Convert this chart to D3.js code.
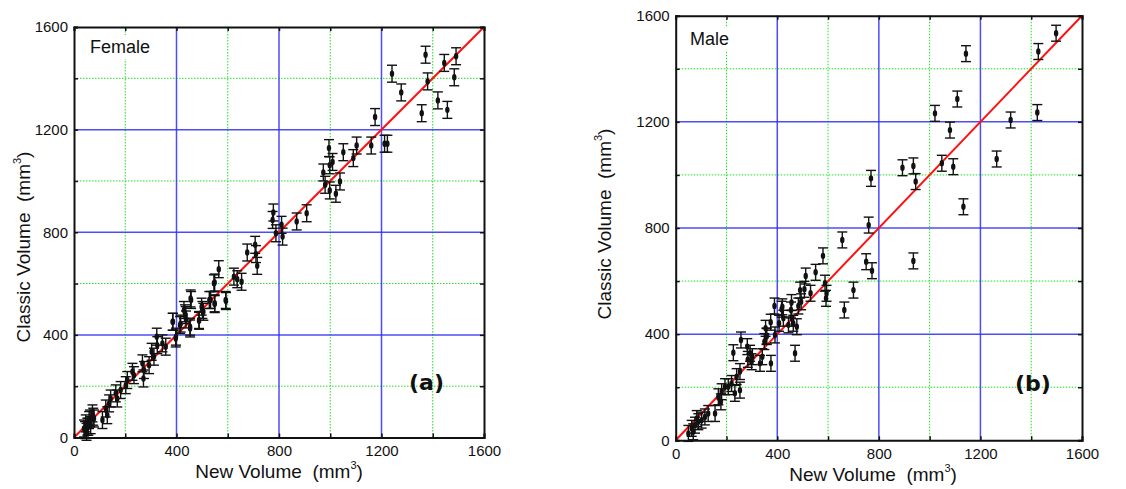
<!DOCTYPE html>
<html><head><meta charset="utf-8">
<script src="https://cdn.jsdelivr.net/npm/d3@7"></script>
<style>body{margin:0;background:#fff}svg{display:block}text{font-family:"Liberation Sans",Arial,sans-serif;fill:#111;white-space:pre}</style>
</head><body><svg id="c" width="1126" height="489"></svg>
<script>
const ticks = [0, 400, 800, 1200, 1600];
const majorGrid = [400, 800, 1200];
const minorGrid = [200, 600, 1000, 1400];
const femaleX = [1372,1491,1445,1241,1380,1484,1277,1420,1457,1357,1175,1160,1212,1223,995,1051,1103,1090,973,998,1009,1038,980,998,1022,778,775,869,908,788,810,814,676,707,710,715,624,637,654,565,549,549,593,528,498,505,488,457,433,437,453,414,385,398,455,386,429,436,416,453,488,501,533,549,592,546,397,323,325,358,345,303,312,293,273,267,271,228,234,208,202,182,163,169,143,137,124,130,111,72,59,46,39,52,65,78,49,56,62,75,43];
const femaleY = [1492,1486,1460,1418,1388,1404,1345,1314,1277,1264,1249,1138,1145,1145,1128,1112,1138,1089,1033,1061,1074,998,985,963,950,877,848,842,874,796,829,783,721,751,715,669,627,617,607,656,604,520,532,536,510,490,455,536,484,460,432,438,451,393,542,451,497,477,444,425,458,497,536,523,536,601,386,393,360,354,367,334,315,282,263,289,230,256,243,224,204,185,172,152,152,133,113,87,68,94,68,55,35,42,48,74,22,42,74,81,29];
const maleX = [1498,1428,1143,1109,1021,1080,1424,1319,1264,1048,1093,893,936,945,769,1133,760,936,656,580,750,773,700,664,588,594,592,551,512,490,507,531,483,456,470,389,417,424,444,374,358,420,454,494,457,463,477,407,354,358,349,391,257,227,282,293,302,284,299,332,341,375,253,240,253,233,220,207,194,181,168,178,155,128,115,102,89,76,63,69,50,83];
const maleY = [1534,1465,1457,1286,1232,1169,1235,1207,1060,1044,1031,1027,1034,975,987,880,811,676,755,695,673,639,566,491,592,554,535,633,619,566,569,554,506,519,328,506,494,460,435,445,393,503,491,522,460,441,428,441,422,391,372,397,378,330,353,328,315,305,296,290,315,290,259,240,189,177,214,202,202,183,164,145,101,101,88,76,70,57,45,32,26,82];
const panels = [
  {xs: femaleX, ys: femaleY, err: 33, label: "Female", tag: "(a)", x0: 74, x1: 484, y0: 437.5, y1: 27,
   lab: [90, 53], tagPos: [409, 390], xt: [279, 478], yt: [23, 247]},
  {xs: maleX, ys: maleY, err: 30, label: "Male", tag: "(b)", x0: 675.7, x1: 1082, y0: 440.3, y1: 15.7,
   lab: [690, 45], tagPos: [1015, 391], xt: [873, 481], yt: [604, 224]}
];
const svg = d3.select("#c");
panels.forEach(p => {
  const x = d3.scaleLinear().domain([0, 1600]).range([p.x0, p.x1]);
  const y = d3.scaleLinear().domain([0, 1600]).range([p.y0, p.y1]);
  const g = svg.append("g");
  minorGrid.forEach(v => {
    g.append("line").attr("x1", x(v)).attr("x2", x(v)).attr("y1", y(0)).attr("y2", y(1600))
      .attr("stroke", "#22dd22").attr("stroke-width", 1).attr("stroke-dasharray", "1.5,1.5");
    g.append("line").attr("y1", y(v)).attr("y2", y(v)).attr("x1", x(0)).attr("x2", x(1600))
      .attr("stroke", "#22dd22").attr("stroke-width", 1).attr("stroke-dasharray", "1.5,1.5");
  });
  majorGrid.forEach(v => {
    g.append("line").attr("x1", x(v)).attr("x2", x(v)).attr("y1", y(0)).attr("y2", y(1600))
      .attr("stroke", "#2f2ff5").attr("stroke-width", 1.5).attr("opacity", 0.85);
    g.append("line").attr("y1", y(v)).attr("y2", y(v)).attr("x1", x(0)).attr("x2", x(1600))
      .attr("stroke", "#2f2ff5").attr("stroke-width", 1.5).attr("opacity", 0.85);
  });
  const lt = g.append("text").attr("x", p.lab[0]).attr("y", p.lab[1]).attr("font-size", 18).text(p.label);
  const bb = lt.node().getBBox();
  g.insert("rect", "text").attr("x", bb.x - 4).attr("y", bb.y - 2).attr("width", bb.width + 8).attr("height", bb.height + 4).attr("fill", "#fff");
  g.append("line").attr("x1", x(0)).attr("y1", y(0)).attr("x2", x(1600)).attr("y2", y(1600))
    .attr("stroke", "#ff1010").attr("stroke-width", 2);
  const data = p.xs.map((v, i) => ({x: v, y: p.ys[i]}));
  const eb = g.append("g").attr("stroke", "#111").attr("stroke-width", 1.4);
  data.forEach(d => {
    const cx = x(d.x), yt = y(d.y + p.err), yb = y(d.y - p.err);
    eb.append("line").attr("x1", cx).attr("x2", cx).attr("y1", yt).attr("y2", yb);
    eb.append("line").attr("x1", cx - 5).attr("x2", cx + 5).attr("y1", yt).attr("y2", yt);
    eb.append("line").attr("x1", cx - 5).attr("x2", cx + 5).attr("y1", yb).attr("y2", yb);
  });
  g.selectAll("ellipse.pt").data(data).enter().append("ellipse").attr("class", "pt")
    .attr("cx", d => x(d.x)).attr("cy", d => y(d.y)).attr("rx", 2.2).attr("ry", 3.2).attr("fill", "#111");
  const all = d3.range(0, 1601, 200);
  const axB = d3.axisBottom(x).tickValues(all).tickSize(-4).tickFormat(d => ticks.includes(d) ? d : "").tickPadding(8);
  const axL = d3.axisLeft(y).tickValues(all).tickSize(-4).tickFormat(d => ticks.includes(d) ? d : "").tickPadding(6);
  const axT = d3.axisTop(x).tickValues(all).tickSize(-4).tickFormat("");
  const axR = d3.axisRight(y).tickValues(all).tickSize(-4).tickFormat("");
  [[axB, `translate(0,${p.y0})`], [axL, `translate(${p.x0},0)`], [axT, `translate(0,${p.y1})`], [axR, `translate(${p.x1},0)`]].forEach(([a, t]) => {
    const ag = g.append("g").attr("transform", t).call(a);
    ag.select(".domain").attr("stroke", "#111").attr("stroke-width", 2);
    ag.selectAll(".tick line").attr("stroke", "#111").attr("stroke-width", 1.5);
    ag.selectAll("text").attr("font-size", 15).attr("fill", "#111").style("font-family", '"Liberation Sans",Arial,sans-serif');
  });
  g.append("text").attr("x", p.tagPos[0]).attr("y", p.tagPos[1]).attr("font-size", 22).attr("font-weight", "bold")
    .style("font-family", '"DejaVu Sans",sans-serif').text(p.tag);
  const xt = g.append("text").attr("x", p.xt[0]).attr("y", p.xt[1]).attr("text-anchor", "middle").attr("font-size", 19);
  xt.append("tspan").text("New Volume  (mm");
  xt.append("tspan").attr("font-size", 11).attr("dy", -9).text("3");
  xt.append("tspan").attr("dy", 9).text(")");
  const yt = g.append("text").attr("transform", `translate(${p.yt[0] + 7},${p.yt[1]}) rotate(-90)`).attr("text-anchor", "middle").attr("font-size", 19);
  yt.append("tspan").text("Classic Volume  (mm");
  yt.append("tspan").attr("font-size", 11).attr("dy", -9).text("3");
  yt.append("tspan").attr("dy", 9).text(")");
});
</script></body></html>
